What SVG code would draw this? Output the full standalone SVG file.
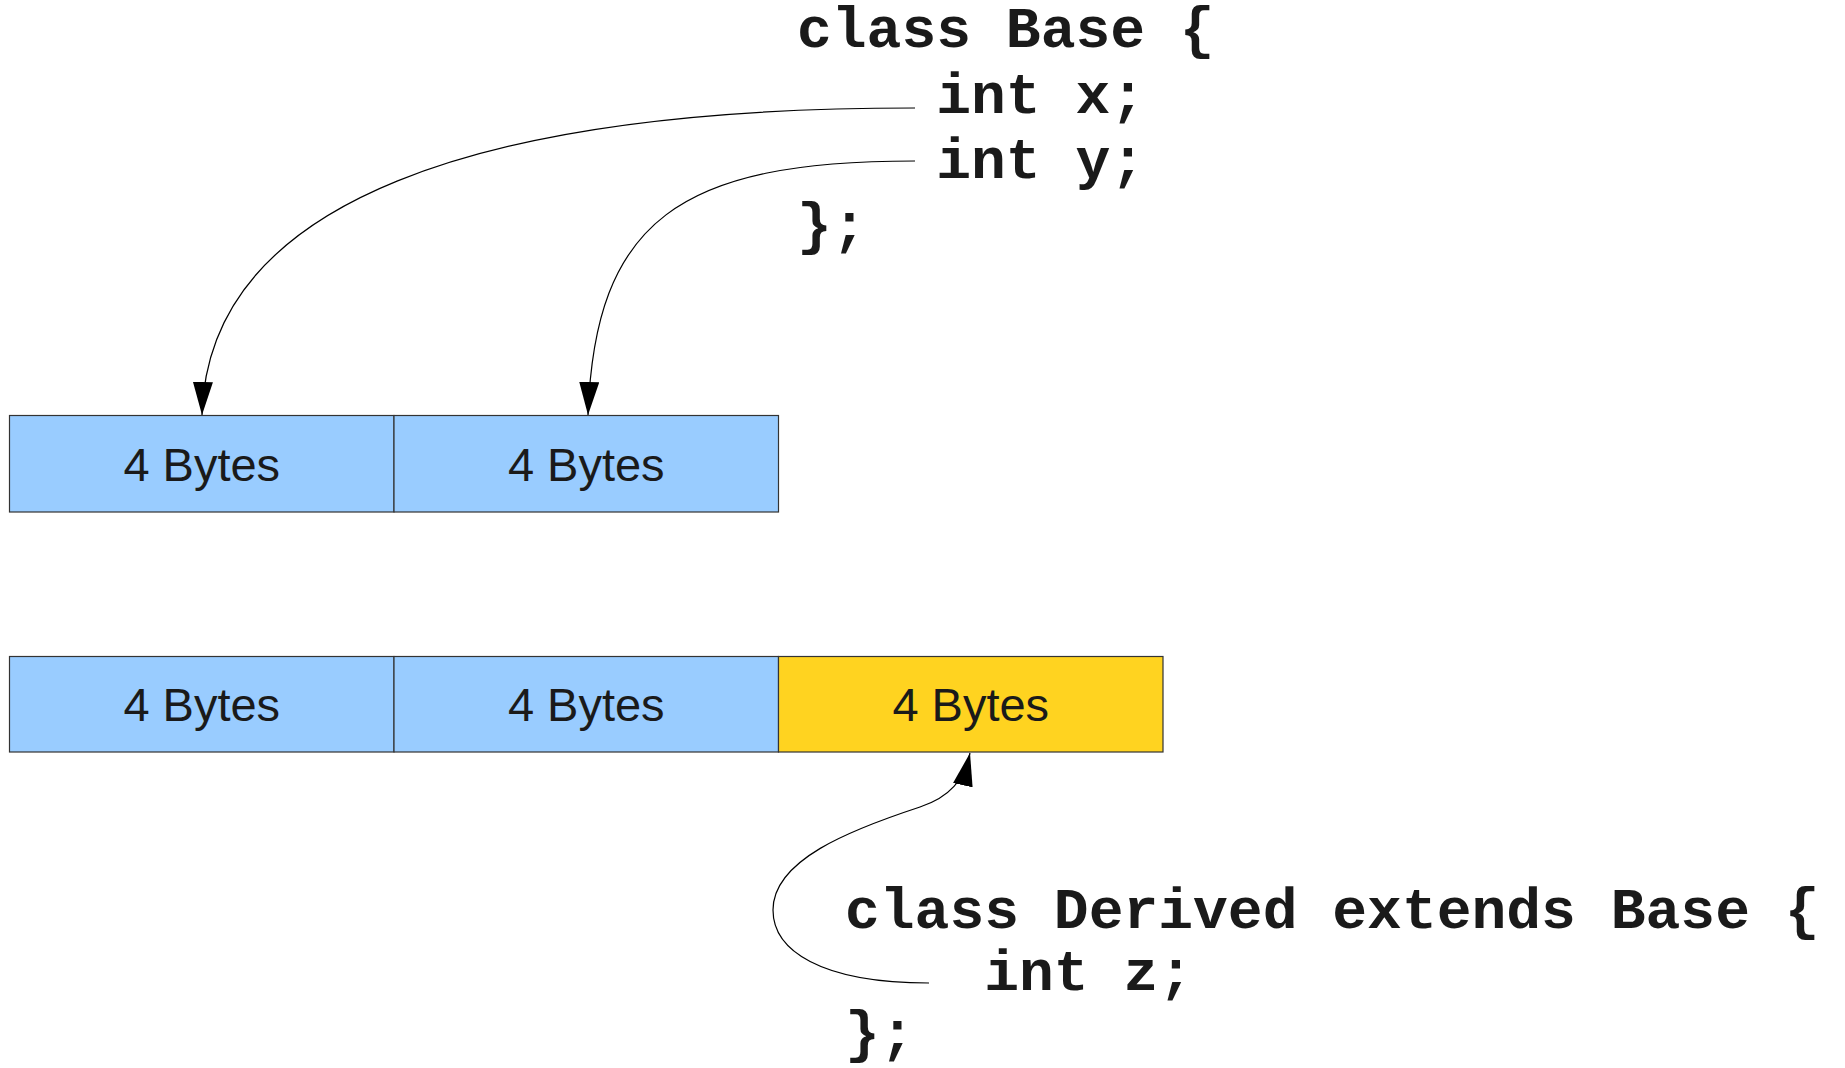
<svg xmlns="http://www.w3.org/2000/svg" width="1845" height="1068" viewBox="0 0 1845 1068">
<style>
.cell{stroke:#333333;stroke-width:1.2}
.blue{fill:#99ccff}
.yellow{fill:#ffd320}
.lbl{font-family:"Liberation Sans",Arial,sans-serif;font-size:47px;fill:#1a1a1a;text-anchor:middle}
.code{font-family:"Liberation Mono","Courier New",monospace;font-weight:bold;font-size:58px;fill:#1a1a1a;white-space:pre}
.conn{fill:none;stroke:#000;stroke-width:1.2;marker-end:url(#arr)}
</style>
<defs>
<marker id="arr" markerUnits="userSpaceOnUse" markerWidth="34" markerHeight="20" refX="33" refY="10" orient="auto">
<path d="M0,0 L33,10 L0,20 z" fill="#000"/>
</marker>
</defs>
<rect width="1845" height="1068" fill="#fff"/>
<g id="base-code">
<text class="code" x="797" y="47">class Base {</text>
<text class="code" x="797" y="113">    int x;</text>
<text class="code" x="797" y="178">    int y;</text>
<text class="code" x="797" y="243">};</text>
</g>
<g id="base-x">
<rect class="cell blue" x="9.5" y="415.5" width="384.5" height="96.5"/>
<text class="lbl" x="201.75" y="481">4 Bytes</text>
</g>
<g id="base-y">
<rect class="cell blue" x="394" y="415.5" width="384.5" height="96.5"/>
<text class="lbl" x="586.25" y="481">4 Bytes</text>
</g>
<g id="derived-x">
<rect class="cell blue" x="9.5" y="656.5" width="384.5" height="95.5"/>
<text class="lbl" x="201.75" y="721">4 Bytes</text>
</g>
<g id="derived-y">
<rect class="cell blue" x="394" y="656.5" width="384.5" height="95.5"/>
<text class="lbl" x="586.25" y="721">4 Bytes</text>
</g>
<g id="derived-z">
<rect class="cell yellow" x="778.5" y="656.5" width="384.5" height="95.5"/>
<text class="lbl" x="970.75" y="721">4 Bytes</text>
</g>
<g id="derived-code">
<text class="code" x="845" y="928">class Derived extends Base {</text>
<text class="code" x="845" y="990">    int z;</text>
<text class="code" x="845" y="1051">};</text>
</g>
<g id="connectors">
<path class="conn" d="M915,108 C480,108 208,200 202,415"/>
<path class="conn" d="M915,161 C680,161 595,220 588,415"/>
<path class="conn" d="M929,983 C820,983 773,950 773,910 C773,860 850,830 920,807 C950,797 964,780 970,753"/>
</g>
</svg>
